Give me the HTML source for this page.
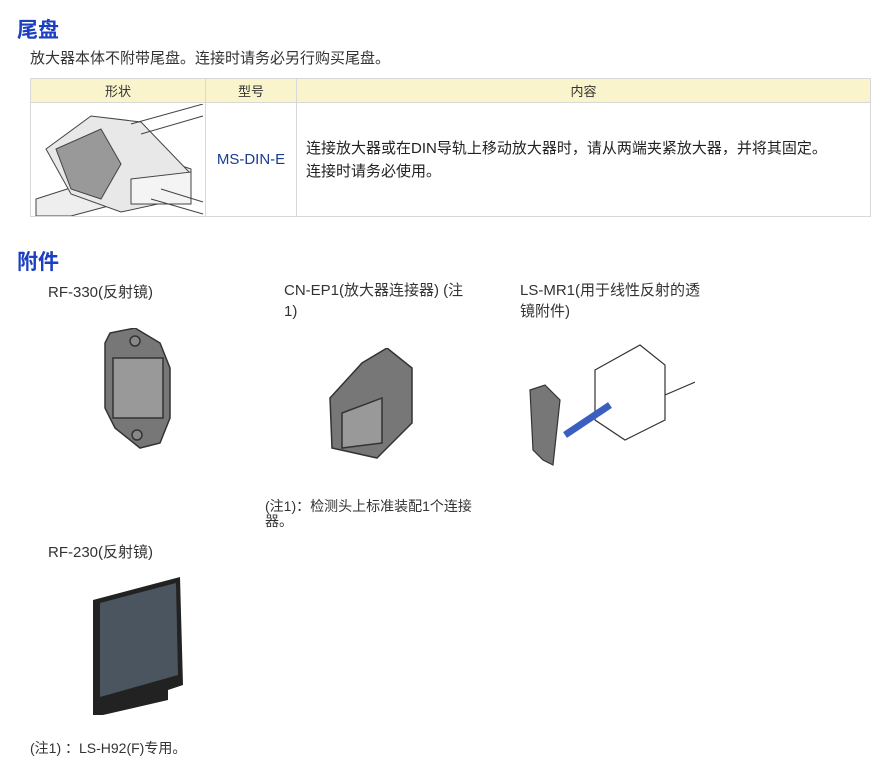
<!DOCTYPE html>
<html><head><meta charset="utf-8"><style>
body{margin:0;width:890px;height:776px;background:#fff;position:relative;font-family:"Liberation Sans","Noto Sans CJK SC",sans-serif;color:#333;font-size:15px;overflow:hidden}
.a{position:absolute}
h2{position:absolute;margin:0;font-size:21px;font-weight:bold;color:#1b3fc0;font-family:"Noto Sans CJK SC",sans-serif}
table{position:absolute;left:30px;top:78px;width:841px;border-collapse:collapse;font-size:13px}
td,th{border:1px solid #d8d8d8;padding:0}
th{background:#f9f4cc;font-weight:normal;height:23px;color:#333}
</style></head><body>
<h2 style="left:17px;top:14px">尾盘</h2>
<div class="a" style="left:30px;top:47px">放大器本体不附带尾盘。连接时请务必另行购买尾盘。</div>
<table>
<tr><th style="width:174px">形状</th><th style="width:90px">型号</th><th>内容</th></tr>
<tr style="height:114px"><td>
<svg width="174" height="112" style="display:block"><g stroke="#444" fill="#ddd" stroke-width="1">
<path d="M5 95 L130 55 L160 65 L160 80 L40 112 L5 112 Z" fill="#eee"/>
<path d="M15 45 L60 12 L110 18 L160 70 L150 95 L90 108 L40 90 Z" fill="#e8e8e8"/>
<path d="M25 45 L70 25 L90 60 L70 95 L40 85 Z" fill="#999"/>
<path d="M100 75 L160 68 L160 100 L100 100 Z" fill="#f4f4f4"/>
<line x1="100" y1="20" x2="172" y2="0"/><line x1="110" y1="30" x2="172" y2="12"/>
<line x1="120" y1="95" x2="172" y2="110"/><line x1="130" y1="85" x2="172" y2="98"/>
</g></svg></td>
<td style="text-align:center;color:#1a3d8f;font-size:15px">MS-DIN-E</td>
<td style="padding-left:9px;line-height:23px;font-size:15px;color:#222">连接放大器或在DIN导轨上移动放大器时，请从两端夹紧放大器，并将其固定。<br>连接时请务必使用。</td></tr>
</table>
<h2 style="left:17px;top:246px">附件</h2>
<div class="a" style="left:48px;top:281px">RF-330(反射镜)</div>
<div class="a" style="left:284px;top:280px;width:192px;line-height:21px">CN-EP1(放大器连接器) (注1)</div>
<div class="a" style="left:520px;top:280px;width:192px;line-height:21px">LS-MR1(用于线性反射的透镜附件)</div>
<svg class="a" style="left:100px;top:328px" width="75" height="125"><g stroke="#333" stroke-width="1.5">
<path d="M10 5 L35 0 L60 15 L70 40 L70 90 L60 115 L40 120 L15 100 L5 80 L5 15 Z" fill="#777"/>
<rect x="13" y="30" width="50" height="60" fill="#999"/>
<circle cx="35" cy="13" r="5" fill="#888"/><circle cx="37" cy="107" r="5" fill="#888"/></g></svg>
<svg class="a" style="left:322px;top:348px" width="100" height="120"><g stroke="#333" stroke-width="1.5">
<path d="M8 50 L40 15 L65 0 L90 20 L90 75 L55 110 L10 100 Z" fill="#777"/>
<path d="M20 65 L60 50 L60 95 L20 100 Z" fill="#999"/></g></svg>
<svg class="a" style="left:525px;top:340px" width="170" height="130"><g stroke="#333" stroke-width="1.2">
<path d="M70 30 L115 5 L140 25 L140 80 L100 100 L70 80 Z" fill="#fff"/>
<line x1="140" y1="55" x2="175" y2="40"/>
<path d="M5 50 L20 45 L35 60 L28 125 L18 120 L8 110 Z" fill="#777"/>
<path d="M40 95 L85 65" stroke="#3b5fc0" stroke-width="7"/></g></svg>
<div class="a" style="left:265px;top:499px;width:215px;font-size:14px;line-height:15px">(注1)：检测头上标准装配1个连接器。</div>
<div class="a" style="left:48px;top:541px">RF-230(反射镜)</div>
<svg class="a" style="left:88px;top:575px" width="100" height="145"><g>
<path d="M5 25 L92 2 L95 110 L80 115 L80 125 L15 140 L5 140 Z" fill="#222"/>
<path d="M12 28 L88 8 L90 100 L12 122 Z" fill="#4b5560"/></g></svg>
<div class="a" style="left:30px;top:738px;font-size:14px">(注1) ：LS-H92(F)专用。</div>
</body></html>
